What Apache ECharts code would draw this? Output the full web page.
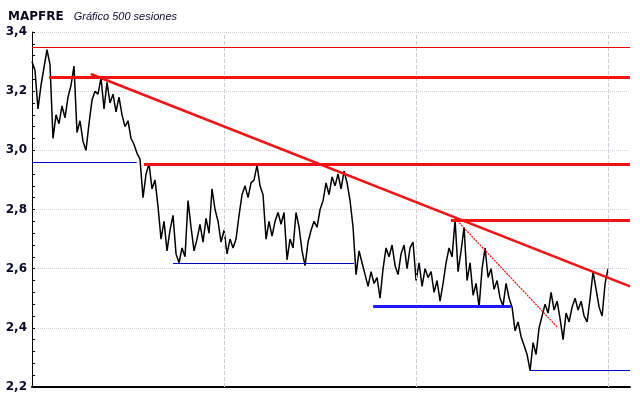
<!DOCTYPE html>
<html>
<head>
<meta charset="utf-8">
<script src="https://cdn.jsdelivr.net/npm/echarts@6/dist/echarts.min.js"></script>
<style>
  html, body { margin: 0; padding: 0; background: #fff; }
  #chart { width: 640px; height: 398px; }
</style>
</head>
<body>
<div id="chart"></div>
<script>
// cierres, un punto cada ~2,6 sesiones
var precios = [
    3.30, 3.27, 3.14, 3.22, 3.28, 3.34, 3.29, 3.04, 3.12, 3.09,
    3.15, 3.11, 3.18, 3.22, 3.285, 3.06, 3.10, 3.03, 3.00, 3.09,
    3.17, 3.20, 3.19, 3.245, 3.14, 3.23, 3.16, 3.19, 3.13, 3.18,
    3.12, 3.08, 3.10, 3.04, 3.02, 2.99, 2.97, 2.84, 2.92, 2.955,
    2.87, 2.90, 2.81, 2.70, 2.76, 2.66, 2.73, 2.78, 2.65, 2.62,
    2.67, 2.64, 2.83, 2.74, 2.66, 2.70, 2.75, 2.69, 2.77, 2.72,
    2.87, 2.80, 2.76, 2.69, 2.73, 2.65, 2.70, 2.67, 2.70, 2.78,
    2.85, 2.88, 2.84, 2.89, 2.90, 2.95, 2.88, 2.85, 2.70, 2.76,
    2.71, 2.76, 2.79, 2.75, 2.79, 2.63, 2.70, 2.67, 2.79, 2.74,
    2.66, 2.61, 2.69, 2.73, 2.76, 2.74, 2.80, 2.83, 2.89, 2.85,
    2.91, 2.88, 2.92, 2.87, 2.93, 2.89, 2.83, 2.74, 2.58, 2.66,
    2.62, 2.58, 2.54, 2.59, 2.55, 2.57, 2.50, 2.60, 2.67, 2.64,
    2.68, 2.61, 2.58, 2.65, 2.68, 2.60, 2.67, 2.69, 2.56, 2.62,
    2.54, 2.60, 2.57, 2.59, 2.52, 2.56, 2.49, 2.55, 2.62, 2.67,
    2.64, 2.765, 2.59, 2.66, 2.74, 2.56, 2.62, 2.51, 2.55, 2.47,
    2.60, 2.67, 2.57, 2.60, 2.53, 2.56, 2.50, 2.475, 2.55, 2.50,
    2.47, 2.39, 2.42, 2.37, 2.34, 2.31, 2.255, 2.35, 2.31, 2.40,
    2.44, 2.48, 2.45, 2.52, 2.46, 2.49, 2.43, 2.36, 2.45, 2.42,
    2.47, 2.50, 2.46, 2.49, 2.44, 2.42, 2.50, 2.59, 2.53, 2.47,
    2.44, 2.55, 2.60
]

var fin = 199.3
var ticksY = [2.2, 3.4, 0.2]
var divisiones = [64, 128, 192]

// lineas horizontales: [desde, hasta, valor]
var maximo = [[0, fin, 3.348]]
var resistencias = [[5.7, fin, 3.247], [37.3, fin, 2.954], [139.6, fin, 2.7625]]
var soportes = [[0, 34.9, 2.96], [47, 107.3, 2.619], [166, fin, 2.255]]
var soporteFuerte = [[113.7, 159.6, 2.472]]

// directrices: [[x1, y1], [x2, y2]]
var bajista = [[19.6, 3.258], [fin, 2.540]]
var bajistaCorta = [[141, 2.77], [175.3, 2.40]]

function tramos(lista) {
    return lista.map(function (h) {
        return [{ coord: [h[0], h[2]] }, { coord: [h[1], h[2]] }]
    })
}

function marca(datos, estilo) {
    return {
        type: 'line',
        data: [],
        silent: true,
        markLine: {
            silent: true,
            symbol: ['none', 'none'],
            label: { show: false },
            emphasis: { disabled: true },
            lineStyle: estilo,
            data: datos
        }
    }
}

var myChart = echarts.init(document.getElementById('chart'))

var option = {
    animation: false,
    backgroundColor: '#ffffff',
    title: {
        left: 3,
        top: 3,
        text: '{a|MAPFRE}  {b|Gráfico 500 sesiones}',
        textStyle: {
            rich: {
                a: { fontFamily: 'DejaVu Sans', fontWeight: 'bold', fontSize: 12, color: '#0a0a1e' },
                b: { fontFamily: 'Liberation Sans', fontStyle: 'italic', fontWeight: 'normal', fontSize: 11, color: '#0a0a2e' }
            }
        }
    },
    grid: { left: 32, right: 10, top: 32, bottom: 11 },
    xAxis: {
        type: 'value',
        min: 0,
        max: fin,
        axisLine: { show: true, onZero: false, lineStyle: { color: '#000', width: 2 } },
        axisTick: { show: false },
        axisLabel: { show: false },
        splitLine: { show: false }
    },
    yAxis: {
        type: 'value',
        min: ticksY[0],
        max: ticksY[1],
        interval: ticksY[2],
        axisLine: { show: true, lineStyle: { color: '#000', width: 1 } },
        axisTick: { show: true, inside: true, length: 3, lineStyle: { color: '#000' } },
        minorTick: { show: true, splitNumber: 5, length: 3, lineStyle: { color: '#000' } },
        axisLabel: {
            margin: 5,
            fontFamily: 'DejaVu Sans',
            fontWeight: 'bold',
            fontSize: 12,
            color: '#0a0a28',
            formatter: function (v) { return v.toFixed(1).replace('.', ',') }
        },
        splitLine: { show: true, lineStyle: { color: '#d9c9dc', type: 'dotted', width: 1 } }
    },
    series: [
        marca(divisiones.map(function (d) { return { xAxis: d } }),
            { color: '#c6cfd8', type: 'dashed', width: 1 }),
        {
            name: 'MAPFRE',
            type: 'line',
            showSymbol: false,
            silent: true,
            z: 3,
            lineStyle: { color: '#000', width: 1.5 },
            data: precios.map(function (p, i) { return [i, p] })
        },
        marca(tramos(maximo), { color: '#ee0000', type: 'solid', width: 1 }),
        marca(tramos(soportes), { color: '#0000cc', type: 'solid', width: 1 }),
        marca(tramos(soporteFuerte), { color: '#1a1aff', type: 'solid', width: 3 }),
        marca(tramos(resistencias), { color: '#f21414', type: 'solid', width: 3 }),
        marca([[{ coord: bajista[0] }, { coord: bajista[1] }]], { color: '#f21414', type: 'solid', width: 2.5 }),
        marca([[{ coord: bajistaCorta[0] }, { coord: bajistaCorta[1] }]], { color: '#ff0000', type: [2, 1], width: 1.2 })
    ]
}

myChart.setOption(option)
</script>
</body>
</html>
